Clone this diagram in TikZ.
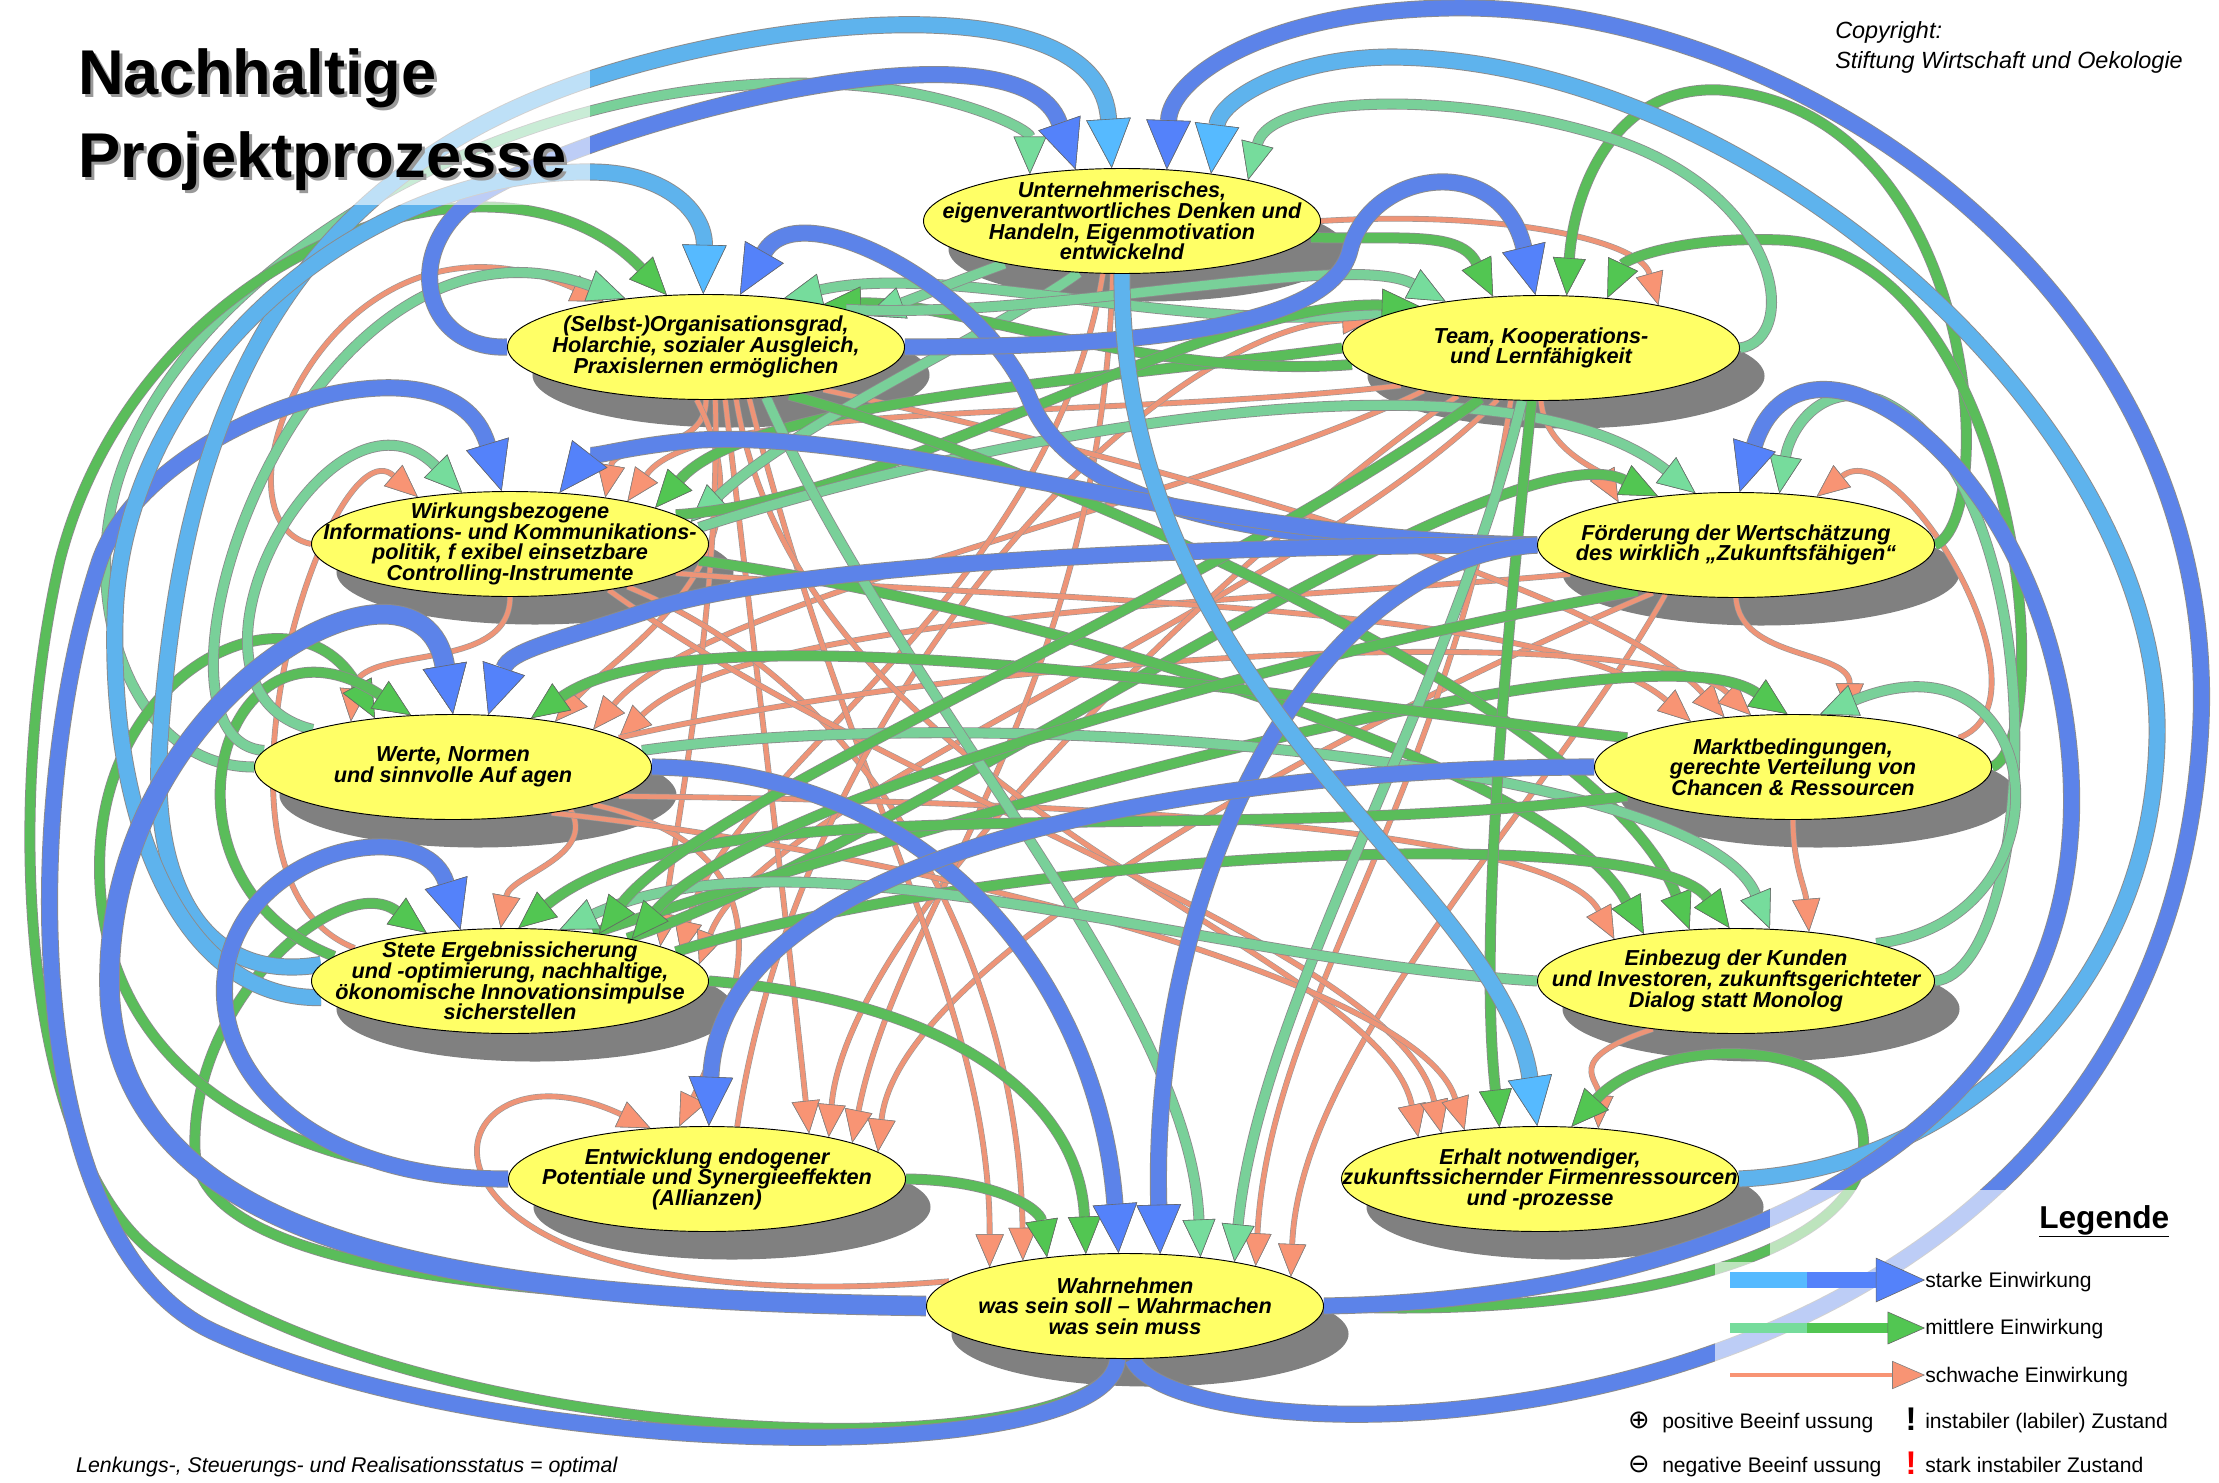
\documentclass[tikz,border=0pt]{standalone}
\usepackage{fontspec}
\setmainfont{Liberation Sans}
\newfontfamily\symfont{DejaVu Sans}
\usetikzlibrary{shapes.geometric, arrows.meta}

\definecolor{nodeYellow}{RGB}{255,255,102}
\definecolor{shadowGray}{RGB}{128,128,128}
\definecolor{linkBlue}{RGB}{84,130,250}
\definecolor{linkSky}{RGB}{86,186,255}
\definecolor{linkGreen}{RGB}{82,198,82}
\definecolor{linkMint}{RGB}{118,220,156}
\definecolor{linkSalmon}{RGB}{248,148,116}

\pgfdeclarelayer{shade}
\pgfdeclarelayer{links}
\pgfsetlayers{shade,links,main}

\tikzstyle{proc} = [ellipse, draw=black, line width=0.8pt, fill=nodeYellow, minimum width=11.91cm, minimum height=3.15cm, inner sep=0pt]
\tikzstyle{procShadow} = [ellipse, fill=shadowGray, minimum width=11.91cm, minimum height=3.15cm, inner sep=0pt]
\tikzstyle{procText} = [align=center, inner sep=0pt, font=\fontsize{18.5}{17.6}\selectfont\bfseries\itshape]
\tikzstyle{strongTip} = [-{Triangle[length=42pt, width=38pt, line width=0.5pt, color=black!60, fill=linkBlue]}]
\tikzstyle{skyTip} = [-{Triangle[length=42pt, width=38pt, line width=0.5pt, color=black!60, fill=linkSky]}]
\tikzstyle{midTip} = [-{Triangle[length=32pt, width=28pt, line width=0.5pt, color=black!60, fill=linkGreen]}]
\tikzstyle{mintTip} = [-{Triangle[length=32pt, width=28pt, line width=0.5pt, color=black!60, fill=linkMint]}]
\tikzstyle{weakTip} = [-{Triangle[length=28pt, width=24pt, line width=0.5pt, color=black!50, fill=linkSalmon]}]
\tikzstyle{strongLink} = [line width=13pt, draw=linkBlue, opacity=0.85, preaction={draw=black!45, line width=14.6pt}, strongTip]
\tikzstyle{strongLight} = [line width=13pt, draw=linkSky, opacity=0.85, preaction={draw=black!45, line width=14.6pt}, skyTip]
\tikzstyle{midLink} = [line width=8pt, draw=linkGreen, opacity=0.85, preaction={draw=black!45, line width=9.4pt}, midTip]
\tikzstyle{midLight} = [line width=8pt, draw=linkMint, opacity=0.85, preaction={draw=black!45, line width=9.4pt}, mintTip]
\tikzstyle{weakLink} = [line width=4pt, draw=linkSalmon, opacity=0.9, preaction={draw=black!40, line width=5pt}, weakTip]
\tikzstyle{titleText} = [anchor=base west, inner sep=0pt, font=\fontsize{54}{60}\selectfont\bfseries]
\tikzstyle{noteText} = [anchor=base west, inner sep=0pt, font=\fontsize{20}{24}\selectfont\itshape]
\tikzstyle{legText} = [anchor=base west, inner sep=0pt, font=\fontsize{18}{21}\selectfont]
\tikzstyle{veil} = [white, opacity=0.6]

\begin{document}
\begin{tikzpicture}[x=0.03cm, y=-0.03cm]

    \useasboundingbox (0,0) rectangle (2219,1482);

    \node (unter) [proc] at (1122,221) {};
    \node (selbst) [proc] at (706,347) {};
    \node (team) [proc] at (1541,348) {};
    \node (wirk) [proc] at (510,544) {};
    \node (foerd) [proc] at (1736,545) {};
    \node (werte) [proc] at (453,767) {};
    \node (markt) [proc] at (1793,767) {};
    \node (stete) [proc] at (510,981) {};
    \node (einbez) [proc] at (1736,981) {};
    \node (entw) [proc] at (707,1179) {};
    \node (erhalt) [proc] at (1540,1179) {};
    \node (wahr) [proc] at (1125,1306) {};

    \node (unterT) [procText] at (unter) {Unternehmerisches,\\eigenverantwortliches Denken und\\Handeln, Eigenmotivation\\entwickelnd};
    \node (selbstT) [procText] at (selbst) {(Selbst-)Organisationsgrad,\\Holarchie, sozialer Ausgleich,\\Praxislernen ermöglichen};
    \node (teamT) [procText] at (team) {Team, Kooperations-\\und Lernfähigkeit};
    \node (wirkT) [procText] at (wirk) {Wirkungsbezogene\\Informations- und Kommunikations-\\politik, f exibel einsetzbare\\Controlling-Instrumente};
    \node (foerdT) [procText] at (foerd) {Förderung der Wertschätzung\\des wirklich „Zukunftsfähigen“};
    \node (werteT) [procText] at (werte) {Werte, Normen\\und sinnvolle Auf agen};
    \node (marktT) [procText] at (markt) {Marktbedingungen,\\gerechte Verteilung von\\Chancen \& Ressourcen};
    \node (steteT) [procText] at (stete) {Stete Ergebnissicherung\\und -optimierung, nachhaltige,\\ökonomische Innovationsimpulse\\sicherstellen};
    \node (einbezT) [procText] at (einbez) {Einbezug der Kunden\\und Investoren, zukunftsgerichteter\\Dialog statt Monolog};
    \node (entwT) [procText] at (entw) {Entwicklung endogener\\Potentiale und Synergieeffekten\\(Allianzen)};
    \node (erhaltT) [procText] at (erhalt) {Erhalt notwendiger,\\zukunftssichernder Firmenressourcen\\und -prozesse};
    \node (wahrT) [procText] at (wahr) {Wahrnehmen\\was sein soll – Wahrmachen\\was sein muss};

    \begin{pgfonlayer}{shade}
    \fill[white] (0,0) rectangle (2219,1482);
    \node (unterS) [procShadow] at ([shift={(25,28)}]unter.center) {};
    \node (selbstS) [procShadow] at ([shift={(25,28)}]selbst.center) {};
    \node (teamS) [procShadow] at ([shift={(25,28)}]team.center) {};
    \node (wirkS) [procShadow] at ([shift={(25,28)}]wirk.center) {};
    \node (foerdS) [procShadow] at ([shift={(25,28)}]foerd.center) {};
    \node (werteS) [procShadow] at ([shift={(25,28)}]werte.center) {};
    \node (marktS) [procShadow] at ([shift={(25,28)}]markt.center) {};
    \node (steteS) [procShadow] at ([shift={(25,28)}]stete.center) {};
    \node (einbezS) [procShadow] at ([shift={(25,28)}]einbez.center) {};
    \node (entwS) [procShadow] at ([shift={(25,28)}]entw.center) {};
    \node (erhaltS) [procShadow] at ([shift={(25,28)}]erhalt.center) {};
    \node (wahrS) [procShadow] at ([shift={(25,28)}]wahr.center) {};
    \end{pgfonlayer}

    \begin{pgfonlayer}{links}
    \draw[weakLink] (wirk.west) .. controls (200,520) and (330,180) .. (selbst.156);
    \draw[weakLink] (stete.168) .. controls (180,880) and (330,420) .. (wirk.153);
    \draw[weakLink] (selbst.south) to[out=270, in=80] (wirk.26);
    \draw[weakLink] (team.195) .. controls (1100,420) and (700,400) .. (wirk.20);
    \draw[weakLink] (wirk.south) to[out=270, in=85] (werte.156);
    \draw[weakLink] (selbst.260) .. controls (780,560) and (620,650) .. (werte.24);
    \draw[weakLink] (team.200) .. controls (1200,500) and (700,600) .. (werte.15);
    \draw[weakLink] (foerd.190) .. controls (1300,600) and (750,610) .. (werte.10);
    \draw[weakLink] (werte.340) to[out=300, in=80] (stete.100);
    \draw[weakLink] (selbst.280) .. controls (720,600) and (680,800) .. (stete.13);
    \draw[weakLink] (unter.250) .. controls (1050,600) and (720,780) .. (stete.9);
    \draw[weakLink] (team.230) .. controls (1300,600) and (760,800) .. (stete.5);
    \draw[weakLink] (wahr.172) .. controls (350,1330) and (420,1020) .. (entw.138);
    \draw[weakLink] (werte.345) .. controls (800,850) and (740,1000) .. (entw.118);
    \draw[weakLink] (selbst.290) .. controls (760,700) and (790,950) .. (entw.24);
    \draw[weakLink] (team.210) .. controls (1300,500) and (850,900) .. (entw.19);
    \draw[weakLink] (unter.260) .. controls (1100,700) and (900,900) .. (entw.14);
    \draw[weakLink] (foerd.210) .. controls (1400,700) and (900,950) .. (entw.9);
    \draw[weakLink] (selbst.310) .. controls (850,800) and (990,1000) .. (wahr.164);
    \draw[weakLink] (wirk.340) .. controls (900,700) and (1020,1000) .. (wahr.156);
    \draw[weakLink] (team.240) .. controls (1450,800) and (1270,1000) .. (wahr.17);
    \draw[weakLink] (foerd.215) .. controls (1550,800) and (1300,1050) .. (wahr.10);
    \draw[weakLink] (unter.east) .. controls (1500,210) and (1640,240) .. (team.20);
    \draw[weakLink] (entw.60) .. controls (800,700) and (1150,330) .. (team.170);
    \draw[weakLink] (team.south) .. controls (1545,450) and (1600,470) .. (foerd.160);
    \draw[weakLink] (markt.10) .. controls (2060,700) and (1900,430) .. (foerd.31);
    \draw[weakLink] (wirk.350) .. controls (1000,600) and (1550,600) .. (markt.156);
    \draw[weakLink] (selbst.340) .. controls (1100,450) and (1600,580) .. (markt.144);
    \draw[weakLink] (werte.10) .. controls (1000,650) and (1650,620) .. (markt.129);
    \draw[weakLink] (foerd.south) .. controls (1740,660) and (1850,650) .. (markt.42);
    \draw[weakLink] (werte.350) .. controls (1000,800) and (1550,820) .. (einbez.161);
    \draw[weakLink] (markt.south) to[out=270, in=95] (einbez.34);
    \draw[weakLink] (selbst.300) .. controls (800,800) and (1380,950) .. (erhalt.161);
    \draw[weakLink] (wirk.335) .. controls (900,800) and (1400,950) .. (erhalt.155);
    \draw[weakLink] (werte.335) .. controls (900,850) and (1420,980) .. (erhalt.147);
    \draw[weakLink] (einbez.210) .. controls (1560,1060) and (1600,1080) .. (erhalt.41);

    \draw[midLight] (werte.west) .. controls (150,767) and (100,650) .. (106,550) .. controls (115,300) and (500,60) .. (849,85) .. controls (960,93) and (1030,130) .. (unter.153);
    \draw[midLink] (wahr.265) .. controls (1080,1475) and (400,1450) .. (150,1250) .. controls (20,1140) and (5,800) .. (60,560) .. controls (140,250) and (500,120) .. (selbst.127);
    \draw[midLink] (wahr.west) .. controls (600,1300) and (200,1285) .. (195,1150) .. controls (190,1000) and (340,870) .. (stete.150);
    \draw[midLink] (entw.west) .. controls (250,1170) and (90,1050) .. (100,850) .. controls (110,660) and (300,580) .. (werte.148);
    \draw[midLink] (stete.172) .. controls (140,880) and (220,590) .. (werte.129);
    \draw[midLight] (werte.165) .. controls (150,690) and (330,360) .. (wirk.133);
    \draw[midLight] (werte.175) .. controls (120,740) and (300,180) .. (selbst.149);
    \draw[midLink] (team.west) .. controls (1100,380) and (750,400) .. (wirk.14);
    \draw[midLight] (unter.230) .. controls (1000,330) and (800,420) .. (wirk.7);
    \draw[midLight] (team.165) .. controls (1200,340) and (950,260) .. (selbst.32);
    \draw[midLink] (team.185) .. controls (1150,380) and (950,300) .. (selbst.20);
    \draw[midLight] (unter.200) to[out=200, in=20] (selbst.11);
    \draw[midLight] (selbst.15) .. controls (1050,320) and (1350,250) .. (team.154);
    \draw[midLink] (unter.355) .. controls (1400,240) and (1460,230) .. (team.133);
    \draw[midLink] (foerd.east) .. controls (2000,520) and (1980,110) .. (1720,90) .. controls (1620,85) and (1575,180) .. (team.64);
    \draw[midLink] (markt.east) .. controls (2060,740) and (2020,250) .. (1780,240) .. controls (1680,236) and (1625,260) .. (team.37);
    \draw[midLight] (team.east) .. controls (1800,340) and (1785,190) .. (1600,135) .. controls (1450,90) and (1270,95) .. (unter.18);
    \draw[midLink] (wirk.10) .. controls (900,500) and (1200,300) .. (team.161);
    \draw[midLight] (wirk.5) .. controls (1000,430) and (1500,340) .. (foerd.128);
    \draw[midLink] (stete.20) .. controls (900,850) and (1500,420) .. (foerd.148);
    \draw[midLight] (einbez.east) .. controls (2040,970) and (2060,480) .. (1880,400) .. controls (1820,380) and (1790,430) .. (foerd.50);
    \draw[midLink] (stete.30) .. controls (1000,800) and (1650,620) .. (markt.96);
    \draw[midLight] (einbez.15) .. controls (2080,920) and (2050,620) .. (markt.63);
    \draw[midLink] (wirk.355) .. controls (1000,600) and (1550,760) .. (einbez.153);
    \draw[midLink] (selbst.330) .. controls (1000,450) and (1600,700) .. (einbez.132);
    \draw[midLink] (stete.10) .. controls (1000,850) and (1650,820) .. (einbez.97);
    \draw[midLight] (werte.5) .. controls (1000,700) and (1700,760) .. (einbez.57);
    \draw[midLink] (team.260) .. controls (1500,700) and (1480,950) .. (erhalt.128);
    \draw[midLink] (wahr.east) .. controls (1600,1320) and (1900,1260) .. (1860,1120) .. controls (1830,1030) and (1650,1040) .. (erhalt.59);
    \draw[midLink] (entw.east) .. controls (1000,1180) and (1040,1210) .. (wahr.148);
    \draw[midLink] (stete.east) .. controls (950,1000) and (1080,1100) .. (wahr.127);
    \draw[midLight] (selbst.320) .. controls (900,700) and (1190,1000) .. (wahr.33);
    \draw[midLight] (team.250) .. controls (1450,700) and (1260,1000) .. (wahr.22);
    \draw[midLink] (markt.170) .. controls (1300,700) and (700,600) .. (werte.32);
    \draw[midLink] (markt.190) .. controls (1200,850) and (700,780) .. (stete.81);
    \draw[midLight] (einbez.west) .. controls (1200,960) and (800,820) .. (stete.46);
    \draw[midLink] (team.220) .. controls (1200,600) and (700,800) .. (stete.28);
    \draw[midLink] (foerd.205) .. controls (1300,650) and (750,800) .. (stete.19);

    \draw[strongLink] (selbst.west) .. controls (420,350) and (400,245) .. (480,195) .. controls (600,120) and (1020,10) .. (unter.132);
    \draw[strongLink] (wahr.262) .. controls (1110,1470) and (500,1465) .. (212,1331) .. controls (20,1240) and (20,800) .. (100,560) .. controls (150,420) and (450,320) .. (wirk.99);
    \draw[strongLink] (wahr.278) .. controls (1180,1470) and (2150,1480) .. (2200,740) .. controls (2230,300) and (1800,0) .. (1446,8) .. controls (1260,12) and (1170,80) .. (unter.49);
    \draw[strongLight] (stete.175) .. controls (200,985) and (150,880) .. (160,740) .. controls (180,450) and (260,190) .. (587,80) .. controls (800,10) and (1100,-10) .. (unter.101);
    \draw[strongLight] (erhalt.east) .. controls (1950,1170) and (2150,1000) .. (2157,740) .. controls (2165,420) and (1750,60) .. (1393,57) .. controls (1290,57) and (1220,100) .. (unter.28);
    \draw[strongLink] (foerd.west) .. controls (1300,545) and (1080,520) .. (1030,400) .. controls (985,290) and (800,190) .. (selbst.57);
    \draw[strongLight] (stete.185) .. controls (180,1000) and (110,820) .. (115,620) .. controls (120,380) and (350,170) .. (590,172) .. controls (670,172) and (705,215) .. (selbst.93);
    \draw[strongLink] (selbst.east) .. controls (1100,347) and (1330,335) .. (1350,250) .. controls (1370,170) and (1500,150) .. (team.96);
    \draw[strongLink] (foerd.west) .. controls (1200,540) and (900,430) .. (700,440) .. controls (630,445) and (585,460) .. (wirk.46);
    \draw[strongLink] (foerd.west) .. controls (1250,545) and (800,560) .. (650,610) .. controls (560,640) and (510,650) .. (werte.56);
    \draw[strongLink] (foerd.west) .. controls (1300,560) and (1150,900) .. (wahr.56);
    \draw[strongLink] (werte.east) .. controls (950,770) and (1100,1000) .. (wahr.97);
    \draw[strongLink, line width=16pt, preaction={draw=black!45, line width=17.6pt}] (wahr.west) .. controls (500,1300) and (130,1260) .. (110,1000) .. controls (95,700) and (420,520) .. (werte.90);
    \draw[strongLink] (entw.west) .. controls (250,1180) and (170,1000) .. (260,900) .. controls (320,835) and (430,830) .. (stete.134);
    \draw[strongLink] (markt.west) .. controls (1200,767) and (720,850) .. (entw.88);
    \draw[strongLight] (unter.south) .. controls (1120,700) and (1500,880) .. (erhalt.93);
    \draw[strongLink] (wahr.east) .. controls (1700,1300) and (2100,1150) .. (2070,760) .. controls (2045,450) and (1800,300) .. (foerd.86);
    \end{pgfonlayer}

    \fill[veil] (70,20) rectangle (590,205);
    \fill[veil] (70,1440) rectangle (636,1482);
    \fill[veil] (1770,1190) rectangle (2219,1262);
    \fill[veil] (1715,1262) rectangle (2219,1400);
    \fill[veil] (1615,1400) rectangle (2219,1482);

    \node (titleShadeA) [titleText, text=black!40] at (81,97) {Nachhaltige};
    \node (titleShadeB) [titleText, text=black!40] at (81,180) {Projektprozesse};
    \node (titleA) [titleText] at (78,94) {Nachhaltige};
    \node (titleB) [titleText] at (78,177) {Projektprozesse};

    \node (copyA) [noteText] at (1835,38) {Copyright:};
    \node (copyB) [noteText] at (1835,68) {Stiftung Wirtschaft und Oekologie};
    \node (statusNote) [noteText, font=\fontsize{18.2}{20}\selectfont\itshape] at (76,1472) {Lenkungs-, Steuerungs- und Realisationsstatus = optimal};

    \node (legTitle) [anchor=base west, inner sep=0pt, font=\fontsize{27}{30}\selectfont\bfseries] at (2039,1228) {\underline{Legende}};
    \node (legStrong) [legText] at (1925,1287) {starke Einwirkung};
    \node (legMid) [legText] at (1925,1334) {mittlere Einwirkung};
    \node (legWeak) [legText] at (1925,1382) {schwache Einwirkung};
    \node (legPos) [legText] at (1662,1428) {positive Beeinf ussung};
    \node (legNeg) [legText] at (1662,1472) {negative Beeinf ussung};
    \node (legInst) [legText] at (1925,1428) {instabiler (labiler) Zustand};
    \node (legStark) [legText] at (1925,1472) {stark instabiler Zustand};
    \node (symPos) [anchor=base, inner sep=0pt, font=\symfont\fontsize{22}{24}\selectfont] at (1639,1428) {⊕};
    \node (symNeg) [anchor=base, inner sep=0pt, font=\symfont\fontsize{22}{24}\selectfont] at (1639,1472) {⊖};
    \node (markInst) [anchor=base, inner sep=0pt, font=\fontsize{28}{30}\selectfont\bfseries] at (1911,1430) {!};
    \node (markStark) [anchor=base, inner sep=0pt, text=red, font=\fontsize{28}{30}\selectfont\bfseries] at (1911,1474) {!};

    \coordinate (legStrongA) at (1730,1280);
    \coordinate (legStrongB) at (1807,1280);
    \coordinate (legMidA) at (1730,1328);
    \coordinate (legMidB) at (1807,1328);
    \coordinate (legWeakA) at (1730,1375);

    \draw[line width=13pt, draw=linkSky] (legStrongA) -- (legStrongB);
    \draw[line width=13pt, draw=linkBlue, strongTip] (legStrongB) -- (legStrongB -| legStrong.west);
    \draw[line width=8pt, draw=linkMint] (legMidA) -- (legMidB);
    \draw[line width=8pt, draw=linkGreen, midTip] (legMidB) -- (legMidB -| legMid.west);
    \draw[line width=4pt, draw=linkSalmon, weakTip] (legWeakA) -- (legWeakA -| legWeak.west);

\end{tikzpicture}
\end{document}
